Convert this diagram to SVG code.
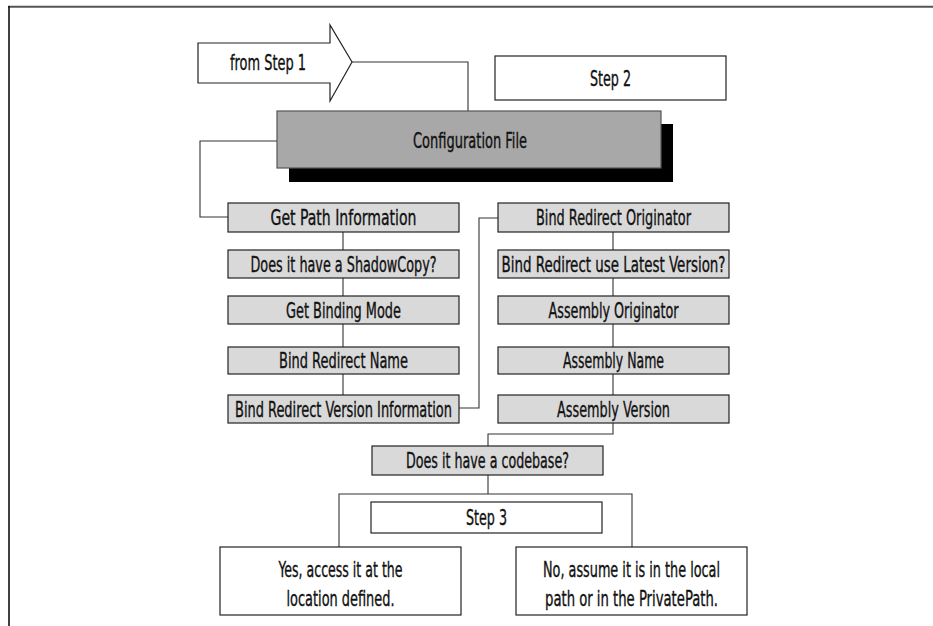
<svg xmlns="http://www.w3.org/2000/svg" width="933" height="626" viewBox="0 0 933 626">
<style>
  text { font-family: "Liberation Sans Narrow", "DejaVu Sans Condensed", "Liberation Sans", sans-serif; font-stretch: condensed; font-size: 21px; fill: #111; stroke: #111; stroke-width: 0.35; text-anchor: middle; }
  .box { fill: #d9d9d9; stroke: #222; stroke-width: 1.2; }
  .wbox { fill: #ffffff; stroke: #222; stroke-width: 1.2; }
  .conn { fill: none; stroke: #333; stroke-width: 1.1; }
</style>
<rect x="0" y="0" width="933" height="626" fill="#ffffff"/>
<g id="frame">
  <line x1="8" y1="6.8" x2="933" y2="6.8" stroke="#555" stroke-width="2"/>
  <line x1="9" y1="6" x2="9" y2="626" stroke="#111" stroke-width="1.6"/>
</g>
<g id="connectors">
  <path class="conn" d="M352,62 H468 V111"/>
  <path class="conn" d="M277,141 H200 V217 H228"/>
  <path class="conn" d="M343,232 V250 M343,278 V296 M343,324 V347 M343,374 V395"/>
  <path class="conn" d="M459,408 H479 V218 H498"/>
  <path class="conn" d="M613,232 V250 M613,278 V296 M613,324 V347 M613,374 V395"/>
  <path class="conn" d="M613,423 V434 H488 V446"/>
  <path class="conn" d="M488,475 V494"/>
  <path class="conn" d="M339,547 V494 H632 V547"/>
</g>
<g id="from-step-1">
  <polygon class="wbox" points="198,43 330,43 330,25 352,62 330,101 330,83 198,83"/>
  <text x="268" y="70" textLength="76" lengthAdjust="spacingAndGlyphs">from Step 1</text>
</g>
<g id="step-2">
  <rect class="wbox" x="495" y="56" width="231" height="44"/>
  <text x="610.5" y="86" textLength="41" lengthAdjust="spacingAndGlyphs">Step 2</text>
</g>
<g id="configuration-file">
  <rect x="289" y="124" width="384" height="58" fill="#000"/>
  <rect x="277" y="111" width="384" height="57" fill="#a8a8a8" stroke="#555" stroke-width="1.2"/>
  <text x="470" y="147.5" textLength="114" lengthAdjust="spacingAndGlyphs">Configuration File</text>
</g>
<g id="get-path-information">
  <rect class="box" x="228" y="203" width="231" height="29"/>
  <text x="343.5" y="225" textLength="146" lengthAdjust="spacingAndGlyphs">Get Path Information</text>
</g>
<g id="shadowcopy">
  <rect class="box" x="228" y="250" width="231" height="28"/>
  <text x="343.5" y="271.5" textLength="186" lengthAdjust="spacingAndGlyphs">Does it have a ShadowCopy?</text>
</g>
<g id="get-binding-mode">
  <rect class="box" x="228" y="296" width="231" height="28"/>
  <text x="343.5" y="317.5" textLength="115" lengthAdjust="spacingAndGlyphs">Get Binding Mode</text>
</g>
<g id="bind-redirect-name">
  <rect class="box" x="228" y="347" width="231" height="27"/>
  <text x="343.5" y="368" textLength="129" lengthAdjust="spacingAndGlyphs">Bind Redirect Name</text>
</g>
<g id="bind-redirect-version-information">
  <rect class="box" x="228" y="395" width="231" height="28"/>
  <text x="343.5" y="416.5" textLength="217" lengthAdjust="spacingAndGlyphs">Bind Redirect Version Information</text>
</g>
<g id="bind-redirect-originator">
  <rect class="box" x="498" y="203" width="231" height="29"/>
  <text x="613.5" y="225" textLength="155" lengthAdjust="spacingAndGlyphs">Bind Redirect Originator</text>
</g>
<g id="bind-redirect-latest">
  <rect class="box" x="498" y="250" width="231" height="28"/>
  <text x="613.5" y="271.5" textLength="224" lengthAdjust="spacingAndGlyphs">Bind Redirect use Latest Version?</text>
</g>
<g id="assembly-originator">
  <rect class="box" x="498" y="296" width="231" height="28"/>
  <text x="613.5" y="317.5" textLength="130" lengthAdjust="spacingAndGlyphs">Assembly Originator</text>
</g>
<g id="assembly-name">
  <rect class="box" x="498" y="347" width="231" height="27"/>
  <text x="613.5" y="368" textLength="101" lengthAdjust="spacingAndGlyphs">Assembly Name</text>
</g>
<g id="assembly-version">
  <rect class="box" x="498" y="395" width="231" height="28"/>
  <text x="613.5" y="416.5" textLength="113" lengthAdjust="spacingAndGlyphs">Assembly Version</text>
</g>
<g id="codebase">
  <rect class="box" x="372" y="446" width="231" height="29"/>
  <text x="487.5" y="468" textLength="163" lengthAdjust="spacingAndGlyphs">Does it have a codebase?</text>
</g>
<g id="step-3">
  <rect class="wbox" x="371" y="502" width="231" height="31"/>
  <text x="486.5" y="525" textLength="41" lengthAdjust="spacingAndGlyphs">Step 3</text>
</g>
<g id="yes">
  <rect class="wbox" x="220" y="547" width="241" height="68"/>
  <text x="340.5" y="576.5" textLength="124" lengthAdjust="spacingAndGlyphs">Yes, access it at the</text>
  <text x="340.5" y="605.5" textLength="108" lengthAdjust="spacingAndGlyphs">location defined.</text>
</g>
<g id="no">
  <rect class="wbox" x="516" y="547" width="231" height="68"/>
  <text x="631.5" y="576.5" textLength="177" lengthAdjust="spacingAndGlyphs">No, assume it is in the local</text>
  <text x="631.5" y="605.5" textLength="173" lengthAdjust="spacingAndGlyphs">path or in the PrivatePath.</text>
</g>
</svg>
